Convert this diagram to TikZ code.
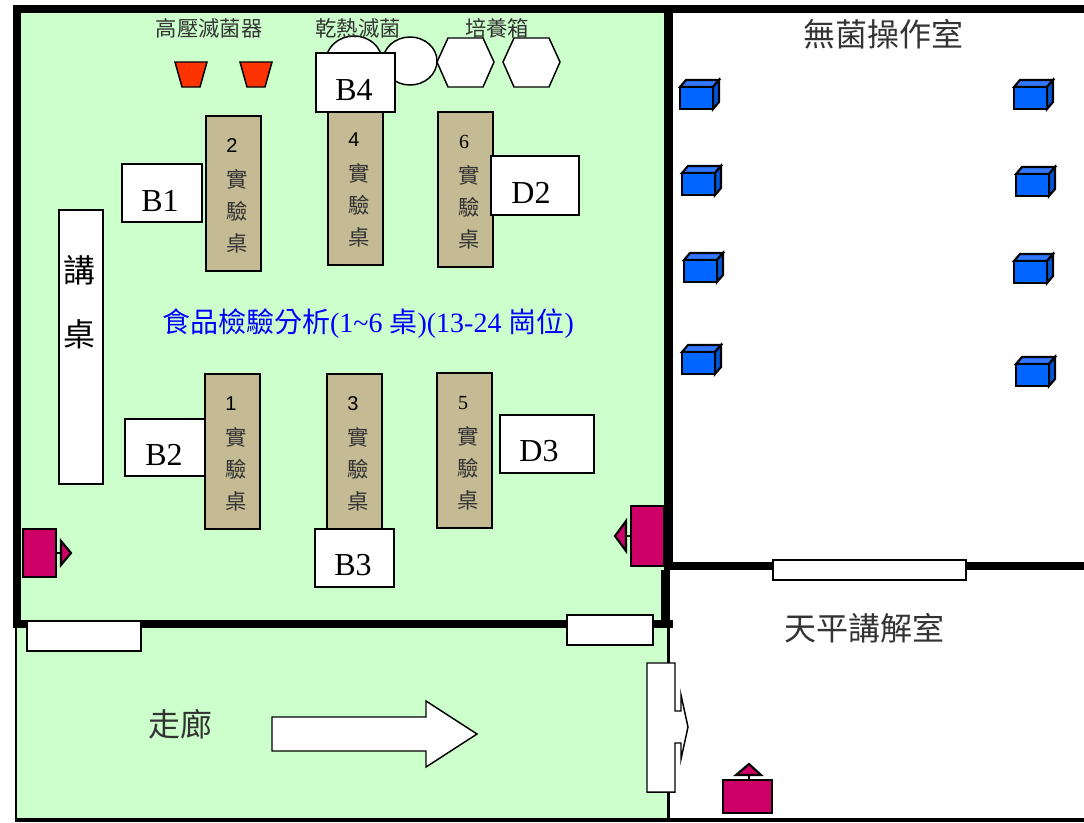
\documentclass[tikz,border=0pt]{standalone}
\usepackage{fontspec}
\setmainfont{Liberation Serif}
\newfontfamily\cjk{Noto Sans CJK TC}
\newfontfamily\numfont{Liberation Sans}
\definecolor{roomgreen}{HTML}{CCFFCC}
\definecolor{benchtan}{HTML}{C4BA94}
\definecolor{cubeblue}{HTML}{0066FF}
\definecolor{cubetop}{HTML}{3377FF}
\definecolor{exitpink}{HTML}{CC0066}
\definecolor{potred}{HTML}{FF3300}
\definecolor{cjkgrey}{HTML}{333333}
\tikzset{
  outlined/.style={draw=black,line width=1.1pt,line join=miter},
  heavy/.style={draw=black,line width=1.6pt,line join=miter},
  whitebox/.style={outlined,fill=white},
  wall/.style={fill=black},
  benchlabel/.style={font=\cjk\fontsize{16}{16}\selectfont,text=cjkgrey,inner sep=0pt},
  roomlabel/.style={font=\cjk\fontsize{24}{24}\selectfont,text=cjkgrey,inner sep=0pt},
  devicelabel/.style={font=\cjk\fontsize{16}{16}\selectfont,text=cjkgrey,inner sep=0pt},
  seatlabel/.style={font=\fontsize{24}{24}\selectfont,inner sep=0pt}
}
% x y of the top left corner, then the number on the bench
\newcommand{\benchtable}[5]{
  \draw[outlined,fill=benchtan] (#1,#2) rectangle ++(55,155);
  \node[font=#4\fontsize{15}{15}\selectfont,inner sep=0pt] at (#1+#5,#2+30) {#3};
  \node[benchlabel] at (#1+31,#2+63) {實};
  \node[benchlabel] at (#1+31,#2+95) {驗};
  \node[benchlabel] at (#1+31,#2+127) {桌};
}
\newcommand{\bluecube}[2]{
  \draw[heavy,fill=cubetop] (#1+1,#2+8) -- ++(6,-7) -- ++(33,0) -- ++(-6,7) -- cycle;
  \draw[heavy,fill=cubeblue!85!black] (#1+34,#2+8) -- ++(6,-7) -- ++(0,22) -- ++(-6,7) -- cycle;
  \draw[heavy,fill=cubeblue] (#1+1,#2+8) rectangle (#1+34,#2+30);
}
\begin{document}
\begin{tikzpicture}[x=0.75pt,y=-0.75pt]
  \useasboundingbox (0,0) rectangle (1084,822);
  \fill[white] (0,0) rectangle (1084,822);
  \fill[roomgreen] (16,10) rectangle (668,820);

  % walls
  \fill[wall] (13,5) rectangle (1084,13);
  \fill[wall] (13,5) rectangle (21,628);
  \fill[wall] (13,620) rectangle (673,628);
  \fill[wall] (664,5) rectangle (673,570);
  \fill[wall] (664,562) rectangle (1084,570);
  \fill[wall] (661,570) rectangle (670,628);
  \fill[wall] (15,628) rectangle (17,822);
  \fill[wall] (667,628) rectangle (670,822);
  \fill[wall] (15,818) rectangle (1084,822);

  % equipment
  \foreach \potx in {175,240}
    \draw[outlined,fill=potred] (\potx,62) -- ++(32,0) -- ++(-7,25) -- ++(-18,0) -- cycle;
  \draw[whitebox] (354,61) ellipse (28 and 25);
  \draw[whitebox] (410,61) ellipse (27 and 24);
  \foreach \hexx in {437,503}
    \draw[whitebox] (\hexx,62) -- ++(11,-24) -- ++(35,0) -- ++(11,24) -- ++(-11,25) -- ++(-35,0) -- cycle;
  \node[devicelabel] (autoclave) at (209,28) {高壓滅菌器};
  \node[devicelabel] (dryheat) at (358,28) {乾熱滅菌};
  \node[devicelabel] (incubator) at (497,28) {培養箱};

  % benches
  \benchtable{206}{116}{2}{\numfont}{26}
  \benchtable{328}{110}{4}{\numfont}{26}
  \benchtable{438}{112}{6}{}{26}
  \benchtable{205}{374}{1}{\numfont}{26}
  \benchtable{327}{374}{3}{\numfont}{26}
  \benchtable{437}{373}{5}{}{26}

  % seats
  \draw[whitebox] (122,164) rectangle (202,222);
  \node[seatlabel] (seatbone) at (160,201) {B1};
  \draw[whitebox] (316,53) rectangle (395,112);
  \node[seatlabel] (seatbfour) at (354,90) {B4};
  \draw[whitebox] (491,156) rectangle (579,215);
  \node[seatlabel] (seatdtwo) at (531,193) {D2};
  \draw[whitebox] (125,419) rectangle (205,476);
  \node[seatlabel] (seatbtwo) at (164,455) {B2};
  \draw[whitebox] (315,529) rectangle (394,587);
  \node[seatlabel] (seatbthree) at (353,565) {B3};
  \draw[whitebox] (500,415) rectangle (594,473);
  \node[seatlabel] (seatdthree) at (539,451) {D3};

  % lectern
  \draw[whitebox] (59,210) rectangle (103,484);
  \node[font=\cjk\fontsize{24}{24}\selectfont,inner sep=0pt] (lecterna) at (79,270) {講};
  \node[font=\cjk\fontsize{24}{24}\selectfont,inner sep=0pt] (lecternb) at (79,334) {桌};

  \node[font=\fontsize{21}{21}\selectfont,text=blue,inner sep=0pt] (area) at (368,324) {{\cjk 食品檢驗分析}(1\textasciitilde 6 {\cjk 桌})(13-24 {\cjk 崗位})};

  % exits
  \draw[heavy,fill=exitpink] (23,529) rectangle (56,577);
  \draw[heavy] (56,553) -- (61,553);
  \draw[heavy,fill=exitpink] (61,541) -- (71,553) -- (61,565) -- cycle;
  \draw[heavy,fill=exitpink] (631,506) rectangle (664,566);
  \draw[heavy] (626,536) -- (631,536);
  \draw[heavy,fill=exitpink] (626,521) -- (615,536) -- (626,551) -- cycle;
  \draw[heavy] (749,775) -- (749,780);
  \draw[heavy,fill=exitpink] (736,775) -- (749,764) -- (761,775) -- cycle;
  \draw[heavy,fill=exitpink] (723,780) rectangle (772,813);

  % doors
  \draw[whitebox] (27,621) rectangle (141,651);
  \draw[whitebox] (567,615) rectangle (653,645);
  \draw[whitebox] (773,560) rectangle (966,580);
  \draw[whitebox] (647,663) -- (675,663) -- (675,711) -- (681,711) -- (681,695) -- (688,727) -- (681,759) -- (681,743) -- (675,743) -- (675,792) -- (647,792) -- cycle;
  \draw[whitebox] (272,717) -- (426,717) -- (426,701) -- (477,734) -- (426,767) -- (426,751) -- (272,751) -- cycle;

  % aseptic room
  \foreach \cubex/\cubey in {679/79,681/165,683/252,681/344,1013/79,1015/166,1013/253,1015/356}{
    \bluecube{\cubex}{\cubey}
  }

  \node[roomlabel] (aseptic) at (883,34) {無菌操作室};
  \node[roomlabel] (balance) at (864,628) {天平講解室};
  \node[roomlabel] (corridor) at (180,724) {走廊};
\end{tikzpicture}
\end{document}
